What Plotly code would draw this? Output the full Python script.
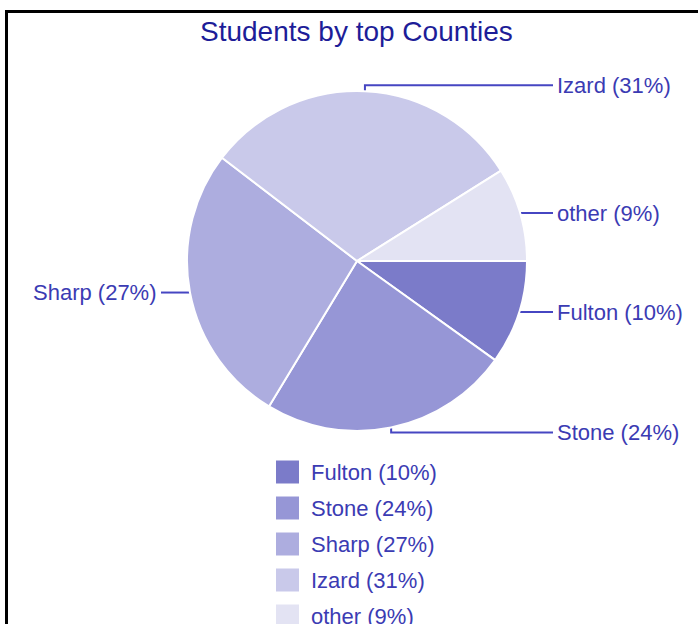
import math
import plotly.graph_objects as go

# ---- data ----
labels = ["Fulton", "Stone", "Sharp", "Izard", "other"]
values = [10, 24, 27, 31, 9]
pct_text = ["10%", "24%", "27%", "31%", "9%"]
colors = ["#7b7bc9", "#9696d6", "#adaddf", "#c9c9ea", "#e3e3f3"]
title = "Students by top Counties"

# ---- layout constants (pixels) ----
W, H = 698, 624
cx, cy, r = 357, 261, 170
FONT = "Liberation Sans, Arial, sans-serif"
TEXT_C = "#3b3bb3"
LINE_C = "#4646c2"
TITLE_C = "#1d1d98"

fig = go.Figure()

fig.add_trace(go.Pie(
    labels=[f"{l} ({p})" for l, p in zip(labels, pct_text)],
    values=values,
    sort=False,
    direction="clockwise",
    rotation=90,
    marker=dict(colors=colors, line=dict(color="white", width=2)),
    textinfo="none",
    hoverinfo="label",
    showlegend=False,
    domain=dict(x=[(cx - r) / W, (cx + r) / W], y=[1 - (cy + r) / H, 1 - (cy - r) / H]),
))

# leader lines + labels computed from the data
total = sum(values)
cum = 0.0
annotations = []
for lab, v, p in zip(labels, values, pct_text):
    mid = (cum + v / 2) / total * 2 * math.pi
    cum += v
    ex, ey = cx + r * math.cos(mid), cy + r * math.sin(mid)
    text = f"{lab} ({p})"
    if abs(math.sin(mid)) > 0.9:
        ly = ey + (5 if math.sin(mid) > 0 else -6)
        xs, ys = [ex, ex, 553], [ey, ly, ly]
        ax, anchor = 555, "left"
    elif math.cos(mid) >= 0:
        ly = ey - 1
        xs, ys = [ex, 553], [ly, ly]
        ax, anchor = 555, "left"
    else:
        ly = ey
        xs, ys = [ex, 161], [ey, ey]
        ax, anchor = 159, "right"
    fig.add_trace(go.Scatter(x=xs, y=ys, mode="lines", line=dict(color=LINE_C, width=2),
                             hoverinfo="skip", showlegend=False))
    annotations.append(dict(x=ax, y=ly, xref="x", yref="y", text=text, showarrow=False,
                            xanchor=anchor, yanchor="middle",
                            font=dict(family=FONT, size=22, color=TEXT_C)))

# custom legend
shapes = []
for i, (lab, p, c) in enumerate(zip(labels, pct_text, colors)):
    yc = 472 + i * 36
    shapes.append(dict(type="rect", xref="x", yref="y", x0=276, x1=299, y0=yc - 11.5, y1=yc + 11.5,
                       fillcolor=c, line=dict(width=0)))
    annotations.append(dict(x=309, y=yc, xref="x", yref="y", text=f"{lab} ({p})", showarrow=False,
                            xanchor="left", yanchor="middle",
                            font=dict(family=FONT, size=22, color=TEXT_C)))

# title
annotations.append(dict(x=356, y=31, xref="x", yref="y", text=title, showarrow=False,
                        xanchor="center", yanchor="middle",
                        font=dict(family=FONT, size=28, color=TITLE_C)))

# frame
shapes.append(dict(type="rect", xref="paper", yref="paper", x0=6.5 / W, x1=1.2, y0=-0.2, y1=1 - 11.5 / H,
                   line=dict(color="black", width=3), fillcolor="rgba(0,0,0,0)", layer="above"))

fig.update_layout(
    width=W, height=H, autosize=False,
    margin=dict(l=0, r=0, t=0, b=0),
    paper_bgcolor="white", plot_bgcolor="rgba(0,0,0,0)",
    xaxis=dict(range=[0, W], visible=False, fixedrange=True),
    yaxis=dict(range=[H, 0], visible=False, fixedrange=True),
    annotations=annotations, shapes=shapes,
    showlegend=False,
)

fig.write_html("out.html")
